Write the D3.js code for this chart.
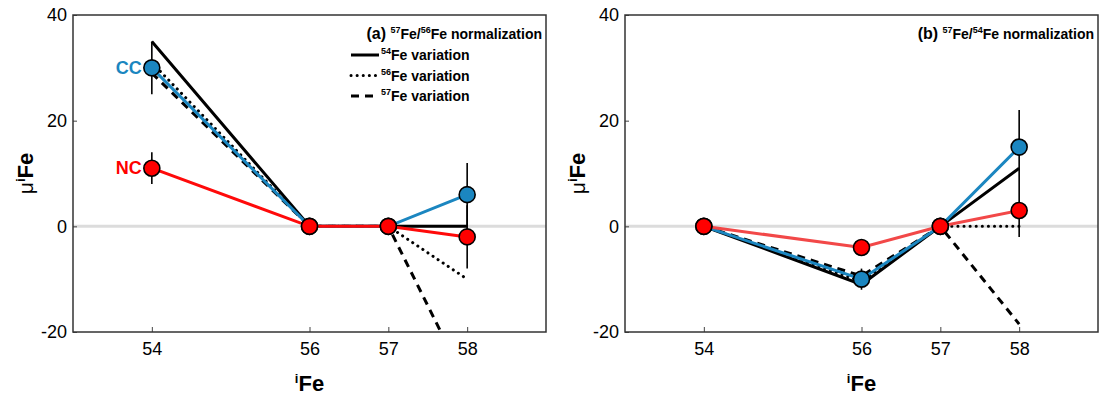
<!DOCTYPE html>
<html>
<head>
<meta charset="utf-8">
<script src="https://cdn.jsdelivr.net/npm/d3@7"></script>
<style>
  body { margin: 0; background: #fff; }
  text { font-family: "Liberation Sans", Arial, sans-serif; }
</style>
</head>
<body>
<div id="app"></div>
<script>
// isotopes on the x axis
const isotopes = [54, 56, 57, 58];
const yTickValues = [-20, 0, 20, 40];

// (a) 57Fe/56Fe normalization
const ccA = [30, 0, 0, 6];
const ccErrA = [5, 0, 0, 6];
const ncA = [11, 0, 0, -2];
const ncErrA = [3, 0, 0, 6];
const fe54A = [35, 0, 0, 0];
const fe56A = [31, 0, 0, -10];
const fe57A = [29, 0, 0, -30];

// (b) 57Fe/54Fe normalization
const ccB = [0, -10, 0, 15];
const ccErrB = [0, 2, 0, 7];
const ncB = [0, -4, 0, 3];
const ncErrB = [0, 0, 0, 5];
const fe54B = [0, -11, 0, 11];
const fe56B = [0, -10.4, 0, 0];
const fe57B = [0, -9.4, 0, -18.5];

const WIDTH = 1102;
const HEIGHT = 400;
const BLUE = '#1b86c0';

const svg = d3.select('#app').append('svg')
  .attr('width', WIDTH)
  .attr('height', HEIGHT);

const panels = [
  {
    id: 'a', left: 73, right: 546, ylabelX: 26,
    cc: ccA, ccErr: ccErrA, nc: ncA, ncErr: ncErrA,
    fe54: fe54A, fe56: fe56A, fe57: fe57A,
    red: '#ff0a0a', title: ['57', '56'], legend: true, labels: true
  },
  {
    id: 'b', left: 625, right: 1098, ylabelX: 578,
    cc: ccB, ccErr: ccErrB, nc: ncB, ncErr: ncErrB,
    fe54: fe54B, fe56: fe56B, fe57: fe57B,
    red: '#f24848', title: ['57', '54'], legend: false, labels: false
  }
];

const TOP = 15;
const BOTTOM = 332;

panels.forEach(drawPanel);

function drawPanel(p) {
  const x = d3.scaleLinear().domain([53, 59]).range([p.left, p.right]);
  const y = d3.scaleLinear().domain([-20, 40]).range([BOTTOM, TOP]);
  const g = svg.append('g').attr('id', `panel-${p.id}`);

  g.append('clipPath').attr('id', `clip-${p.id}`)
    .append('rect')
    .attr('x', p.left).attr('y', TOP)
    .attr('width', p.right - p.left).attr('height', BOTTOM - TOP);

  // zero line
  g.append('line')
    .attr('x1', p.left).attr('x2', p.right)
    .attr('y1', y(0)).attr('y2', y(0))
    .attr('stroke', '#dcdcdc').attr('stroke-width', 3);

  // axes
  const fmt = d => String(d);
  const xAxis = d3.axisBottom(x).tickValues(isotopes).tickFormat(fmt)
    .tickSizeInner(-5).tickSizeOuter(0).tickPadding(10);
  const gx = g.append('g').attr('transform', `translate(0,${BOTTOM})`).call(xAxis);
  const yAxis = d3.axisLeft(y).tickValues(yTickValues).tickFormat(fmt)
    .tickSizeInner(-4).tickSizeOuter(0).tickPadding(6);
  const gy = g.append('g').attr('transform', `translate(${p.left},0)`).call(yAxis);
  [gx, gy].forEach(a => {
    a.selectAll('.domain').remove();
    a.selectAll('.tick line').attr('stroke', '#444').attr('stroke-width', 1);
    a.selectAll('.tick text').attr('font-size', 18).attr('fill', '#000')
      .style('font-family', '"Liberation Sans", Arial, sans-serif');
  });

  // frame
  g.append('rect')
    .attr('x', p.left).attr('y', TOP)
    .attr('width', p.right - p.left).attr('height', BOTTOM - TOP)
    .attr('fill', 'none').attr('stroke', '#333').attr('stroke-width', 1.5);

  const line = d3.line().x((d, i) => x(isotopes[i])).y(d => y(d));
  const plot = g.append('g').attr('clip-path', `url(#clip-${p.id})`);

  // model lines
  plot.append('path').attr('d', line(p.fe57))
    .attr('fill', 'none').attr('stroke', '#000').attr('stroke-width', 3)
    .attr('stroke-dasharray', '8,6');
  plot.append('path').attr('d', line(p.fe56))
    .attr('fill', 'none').attr('stroke', '#000').attr('stroke-width', 3)
    .attr('stroke-linecap', 'round').attr('stroke-dasharray', '0.1,6');
  plot.append('path').attr('d', line(p.fe54))
    .attr('fill', 'none').attr('stroke', '#000').attr('stroke-width', 3);

  // error bars
  const errs = [];
  isotopes.forEach((iso, i) => {
    if (p.ccErr[i]) errs.push([iso, p.cc[i], p.ccErr[i]]);
    if (p.ncErr[i]) errs.push([iso, p.nc[i], p.ncErr[i]]);
  });
  plot.selectAll('line.err').data(errs).join('line')
    .attr('class', 'err')
    .attr('x1', d => x(d[0])).attr('x2', d => x(d[0]))
    .attr('y1', d => y(d[1] - d[2])).attr('y2', d => y(d[1] + d[2]))
    .attr('stroke', '#000').attr('stroke-width', 1.6);

  // sample lines
  plot.append('path').attr('d', line(p.cc))
    .attr('fill', 'none').attr('stroke', BLUE).attr('stroke-width', 3);
  plot.append('path').attr('d', line(p.nc))
    .attr('fill', 'none').attr('stroke', p.red).attr('stroke-width', 3);

  // markers: CC first, NC on top
  plot.selectAll('circle.cc').data(p.cc).join('circle')
    .attr('class', 'cc')
    .attr('cx', (d, i) => x(isotopes[i])).attr('cy', d => y(d)).attr('r', 8)
    .attr('fill', BLUE).attr('stroke', '#000').attr('stroke-width', 1.6);
  plot.selectAll('circle.nc').data(p.nc).join('circle')
    .attr('class', 'nc')
    .attr('cx', (d, i) => x(isotopes[i])).attr('cy', d => y(d)).attr('r', 8)
    .attr('fill', '#ff0000').attr('stroke', '#000').attr('stroke-width', 1.6);

  if (p.labels) {
    g.append('text').attr('x', x(54) - 10).attr('y', y(p.cc[0]) + 6)
      .attr('text-anchor', 'end').attr('font-size', 18).attr('font-weight', 'bold')
      .attr('fill', BLUE).text('CC');
    g.append('text').attr('x', x(54) - 10).attr('y', y(p.nc[0]) + 6)
      .attr('text-anchor', 'end').attr('font-size', 18).attr('font-weight', 'bold')
      .attr('fill', '#ff0000').text('NC');
  }

  // title
  const t = g.append('text').attr('x', p.right - 4).attr('y', 39)
    .attr('text-anchor', 'end').attr('font-weight', 'bold').attr('fill', '#000');
  t.append('tspan').attr('font-size', 16).text(`(${p.id}) `);
  t.append('tspan').attr('font-size', 9).attr('dy', -6).text(p.title[0]);
  t.append('tspan').attr('font-size', 14).attr('dy', 6).text('Fe/');
  t.append('tspan').attr('font-size', 9).attr('dy', -6).text(p.title[1]);
  t.append('tspan').attr('font-size', 14).attr('dy', 6).text('Fe normalization');

  if (p.legend) {
    const rows = [
      { iso: '54', dash: null },
      { iso: '56', dash: '0.1,6' },
      { iso: '57', dash: '8,6' }
    ];
    rows.forEach((r, i) => {
      const ly = 55 + i * 20.5;
      g.append('line')
        .attr('x1', 351).attr('x2', 379).attr('y1', ly).attr('y2', ly)
        .attr('stroke', '#000').attr('stroke-width', 3)
        .attr('stroke-linecap', r.dash === '0.1,6' ? 'round' : 'butt')
        .attr('stroke-dasharray', r.dash);
      const lt = g.append('text').attr('x', 381).attr('y', ly + 5)
        .attr('font-weight', 'bold').attr('fill', '#000');
      lt.append('tspan').attr('font-size', 9).attr('dy', -6).text(r.iso);
      lt.append('tspan').attr('font-size', 14).attr('dy', 6).text('Fe variation');
    });
  }

  // axis titles
  const xl = g.append('text').attr('x', (p.left + p.right) / 2).attr('y', 391)
    .attr('text-anchor', 'middle').attr('font-weight', 'bold').attr('fill', '#000');
  xl.append('tspan').attr('font-size', 13).attr('dy', -8).text('i');
  xl.append('tspan').attr('font-size', 22).attr('dy', 8).text('Fe');

  const yl = g.append('text')
    .attr('transform', `translate(${p.ylabelX + 7},${(TOP + BOTTOM) / 2}) rotate(-90)`)
    .attr('text-anchor', 'middle').attr('fill', '#000');
  yl.append('tspan').attr('font-size', 21).text('\u03bc');
  yl.append('tspan').attr('font-size', 13).attr('font-weight', 'bold').attr('dy', -8).text('i');
  yl.append('tspan').attr('font-size', 22).attr('font-weight', 'bold').attr('dy', 8).text('Fe');
}
</script>
</body>
</html>
